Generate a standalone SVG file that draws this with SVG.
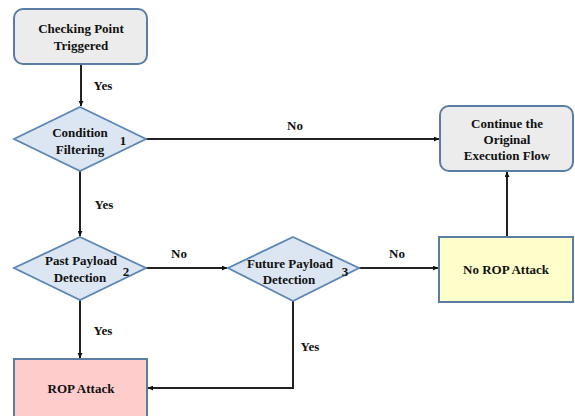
<svg xmlns="http://www.w3.org/2000/svg" width="575" height="416" viewBox="0 0 575 416">
<style>
text{font-family:'Liberation Serif','DejaVu Serif',serif;font-weight:700;font-size:13px;fill:#111;text-anchor:middle}
.g{fill:#ececec;stroke:#5a7da3;stroke-width:2}
.d{fill:#dce6f2;stroke:#5b86b5;stroke-width:1.8}
.y{fill:#ffffcc;stroke:#5a7da3;stroke-width:2}
.r{fill:#ffcccc;stroke:#5a7da3;stroke-width:2}
.c{fill:none;stroke:#222;stroke-width:2}
</style>
<defs>
<marker id="ah" viewBox="0 0 10 10" refX="10" refY="5" markerWidth="5" markerHeight="5" orient="auto" markerUnits="userSpaceOnUse"><path d="M0,0L10,5L0,10z" fill="#111"/></marker>
</defs>
<rect width="575" height="416" fill="#fff"/>
<g id="connectors" font-family="Liberation Serif, serif">
<path class="c" d="M81,64V106" marker-end="url(#ah)"/>
<path class="c" d="M146,139H439" marker-end="url(#ah)"/>
<path class="c" d="M80,171V236" marker-end="url(#ah)"/>
<path class="c" d="M146,268H227" marker-end="url(#ah)"/>
<path class="c" d="M359,268H438" marker-end="url(#ah)"/>
<path class="c" d="M507,237V172" marker-end="url(#ah)"/>
<path class="c" d="M80,300V358" marker-end="url(#ah)"/>
<path class="c" d="M293,301V388H148" marker-end="url(#ah)"/>
<text x="103" y="90">Yes</text>
<text x="295" y="130">No</text>
<text x="104" y="209">Yes</text>
<text x="179" y="258">No</text>
<text x="397" y="258">No</text>
<text x="103" y="335">Yes</text>
<text x="310" y="351">Yes</text>
</g>
<g id="start">
<rect class="g" x="14" y="9" width="133" height="55" rx="9"/>
<text x="81" y="33">Checking Point</text>
<text x="81" y="50">Triggered</text>
</g>
<g id="cond1">
<path class="d" d="M80,107L146,139L80,171L14,139Z"/>
<text x="80" y="137">Condition</text>
<text x="80" y="154">Filtering</text>
<text x="123" y="145">1</text>
</g>
<g id="cond2">
<path class="d" d="M80,237L146,268L80,300L14,268Z"/>
<text x="81" y="265">Past Payload</text>
<text x="80" y="282">Detection</text>
<text x="126" y="276">2</text>
</g>
<g id="cond3">
<path class="d" d="M293,237L359,268L293,301L228,268Z"/>
<text x="290" y="268">Future Payload</text>
<text x="289" y="284">Detection</text>
<text x="345" y="276">3</text>
</g>
<g id="continue">
<rect class="g" x="440" y="106" width="133" height="65" rx="9"/>
<text x="507" y="128">Continue the</text>
<text x="507" y="144">Original</text>
<text x="507" y="160">Execution Flow</text>
</g>
<g id="norop">
<rect class="y" x="439" y="237" width="134" height="65"/>
<text x="506" y="274">No ROP Attack</text>
</g>
<g id="rop">
<rect class="r" x="14" y="359" width="133" height="60"/>
<text x="81" y="393">ROP Attack</text>
</g>
</svg>
